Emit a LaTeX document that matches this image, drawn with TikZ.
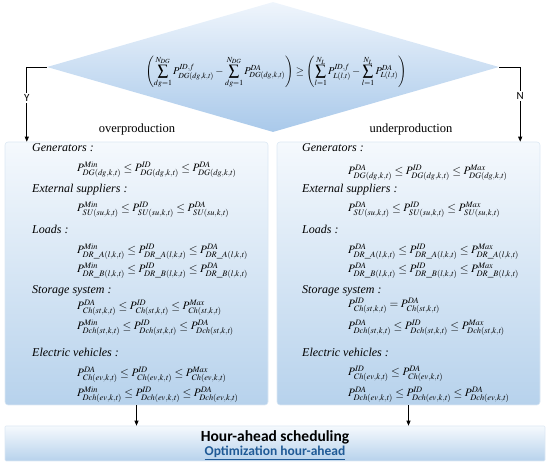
\documentclass[tikz,border=0pt]{standalone}
\usepackage{mathptmx}
\usepackage{fontspec}
\setmainfont{Liberation Serif}
\newfontfamily\calib{Carlito}
\usetikzlibrary{shapes.geometric,arrows.meta,calc}
\definecolor{boxtop}{HTML}{F5F9FD}
\definecolor{boxbot}{HTML}{B7D2EC}
\definecolor{diatop}{HTML}{EFF5FC}
\definecolor{diabot}{HTML}{A9C9EA}
\definecolor{edgec}{HTML}{DCE8F4}
\definecolor{linkblue}{HTML}{1F5A96}
\newcommand\Pv[2]{P^{\mathit{#1}}_{\mathit{#2}}}
\begin{document}
\begin{tikzpicture}[x=1pt,y=-1pt,
  panel/.style={rectangle,rounded corners=3pt,draw=edgec,line width=0.6pt,top color=boxtop,bottom color=boxbot,inner sep=0pt},
  arr/.style={-{Triangle[length=5pt,width=4pt]},line width=0.8pt},
  head/.style={anchor=west,inner sep=0pt,font=\fontsize{12}{14}\selectfont\itshape},
  eq/.style={anchor=west,inner sep=0pt,font=\fontsize{11.3}{13}\selectfont},
  yn/.style={fill=white,inner sep=1.5pt,font=\calib\fontsize{11}{12}\selectfont}]
\useasboundingbox (0,0) rectangle (550,468);
% decision diamond
\node[diamond,draw=none,top color=diatop,bottom color=diabot,minimum width=452pt,minimum height=130pt,inner sep=0pt] (dia) at (273,67) {};
\node[inner sep=0pt,font=\fontsize{10.5}{12}\selectfont] (cond) at (276,72)
 {$\displaystyle\left(\sum_{dg=1}^{N_{DG}}\Pv{ID,\,f}{DG(dg,k,t)}-\sum_{dg=1}^{N_{DG}}\Pv{DA}{DG(dg,k,t)}\right)\geq\left(\sum_{l=1}^{N_L}\Pv{ID,\,f}{L(l,t)}-\sum_{l=1}^{N_L}\Pv{DA}{L(l,t)}\right)$};
% panels
\node[panel,minimum width=263pt,minimum height=263pt] (lbox) at (136.5,273.5) {};
\node[panel,minimum width=263pt,minimum height=263pt] (rbox) at (408.5,273.5) {};
\node[panel,minimum width=540pt,minimum height=35pt,rounded corners=1pt] (hbox) at (275,443.5) {};
% headers
\node[font=\fontsize{12.5}{14}\selectfont] (over) at (137,129) {overproduction};
\node[font=\fontsize{12.5}{14}\selectfont] (under) at (411,129) {underproduction};
% connectors
\draw[arr] (dia.west) -- ++(-20,0) coordinate (yc) -- node[yn,pos=0.41]{Y} (yc |- lbox.north);
\draw[arr] (dia.east) -- ++(21,0) coordinate (nc) -- node[yn,pos=0.39]{N} (nc |- rbox.north);
\draw[arr] (lbox.south) -- (lbox.south |- hbox.north);
\draw[arr] (rbox.south) -- (rbox.south |- hbox.north);
% left panel
\node[head] (lg) at (32,148) {Generators :};
\node[eq] (lg1) at (77,170) {$\Pv{Min}{DG(dg,k,t)}\leq\Pv{ID}{DG(dg,k,t)}\leq\Pv{DA}{DG(dg,k,t)}$};
\node[head] (ls) at (32,190) {External suppliers :};
\node[eq] (ls1) at (77,210) {$\Pv{Min}{SU(su,k,t)}\leq\Pv{ID}{SU(su,k,t)}\leq\Pv{DA}{SU(su,k,t)}$};
\node[head] (ll) at (32,229) {Loads :};
\node[eq] (ll1) at (77,252) {$\Pv{Min}{DR\_A(l,k,t)}\leq\Pv{ID}{DR\_A(l,k,t)}\leq\Pv{DA}{DR\_A(l,k,t)}$};
\node[eq] (ll2) at (77,271) {$\Pv{Min}{DR\_B(l,k,t)}\leq\Pv{ID}{DR\_B(l,k,t)}\leq\Pv{DA}{DR\_B(l,k,t)}$};
\node[head] (lst) at (32,291) {Storage system :};
\node[eq] (lst1) at (77,308) {$\Pv{DA}{Ch(st,k,t)}\leq\Pv{ID}{Ch(st,k,t)}\leq\Pv{Max}{Ch(st,k,t)}$};
\node[eq] (lst2) at (77,328) {$\Pv{Min}{Dch(st,k,t)}\leq\Pv{ID}{Dch(st,k,t)}\leq\Pv{DA}{Dch(st,k,t)}$};
\node[head] (le) at (32,352) {Electric vehicles :};
\node[eq] (le1) at (77,375) {$\Pv{DA}{Ch(ev,k,t)}\leq\Pv{ID}{Ch(ev,k,t)}\leq\Pv{Max}{Ch(ev,k,t)}$};
\node[eq] (le2) at (77,395) {$\Pv{Min}{Dch(ev,k,t)}\leq\Pv{ID}{Dch(ev,k,t)}\leq\Pv{DA}{Dch(ev,k,t)}$};
% right panel
\node[head] (rg) at (302,148) {Generators :};
\node[eq] (rg1) at (348,173) {$\Pv{DA}{DG(dg,k,t)}\leq\Pv{ID}{DG(dg,k,t)}\leq\Pv{Max}{DG(dg,k,t)}$};
\node[head] (rs) at (302,190) {External suppliers :};
\node[eq] (rs1) at (348,210) {$\Pv{DA}{SU(su,k,t)}\leq\Pv{ID}{SU(su,k,t)}\leq\Pv{Max}{SU(su,k,t)}$};
\node[head] (rl) at (302,229) {Loads :};
\node[eq] (rl1) at (348,252) {$\Pv{DA}{DR\_A(l,k,t)}\leq\Pv{ID}{DR\_A(l,k,t)}\leq\Pv{Max}{DR\_A(l,k,t)}$};
\node[eq] (rl2) at (348,271) {$\Pv{DA}{DR\_B(l,k,t)}\leq\Pv{ID}{DR\_B(l,k,t)}\leq\Pv{Max}{DR\_B(l,k,t)}$};
\node[head] (rst) at (302,291) {Storage system :};
\node[eq] (rst1) at (348,306) {$\Pv{ID}{Ch(st,k,t)}=\Pv{DA}{Ch(st,k,t)}$};
\node[eq] (rst2) at (348,328) {$\Pv{DA}{Dch(st,k,t)}\leq\Pv{ID}{Dch(st,k,t)}\leq\Pv{Max}{Dch(st,k,t)}$};
\node[head] (re) at (302,352) {Electric vehicles :};
\node[eq] (re1) at (348,374) {$\Pv{ID}{Ch(ev,k,t)}\leq\Pv{DA}{Ch(ev,k,t)}$};
\node[eq] (re2) at (348,395) {$\Pv{DA}{Dch(ev,k,t)}\leq\Pv{ID}{Dch(ev,k,t)}\leq\Pv{DA}{Dch(ev,k,t)}$};
% bottom box texts
\node[font=\calib\bfseries\fontsize{15.5}{17}\selectfont,inner sep=0pt] (hname) at (275,437) {Hour-ahead scheduling};
\node[font=\calib\bfseries\fontsize{13.5}{15}\selectfont,text=linkblue,inner sep=0pt] (hsub) at (275,453) {\underline{Optimization hour-ahead}};
\end{tikzpicture}
\end{document}
